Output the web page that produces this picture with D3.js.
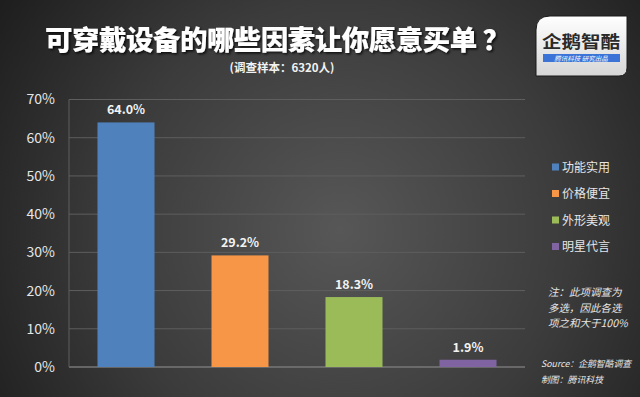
<!DOCTYPE html>
<html><head><meta charset="utf-8">
<script src="https://cdn.jsdelivr.net/npm/d3@7"></script>
<style>body{margin:0;overflow:hidden;background:#2a2a2a}svg{display:block}</style>
</head><body>
<script>
const categories = ["功能实用","价格便宜","外形美观","明星代言"];
const values = [64.0, 29.2, 18.3, 1.9];
const colors = ["#4f81bd","#f79646","#9bbb59","#8064a2"];
const yTicks = [0,10,20,30,40,50,60,70];
const noteLines = ["注：此项调查为","多选，因此各选","项之和大于100%"];
const sourceLines = ["Source：企鹅智酷调查","制图：腾讯科技"];

const W=640,H=397;
const svg=d3.select("body").append("svg").attr("width",W).attr("height",H);
const defs=svg.append("defs");
const rg=defs.append("radialGradient").attr("id","bg").attr("gradientUnits","userSpaceOnUse")
  .attr("cx",340).attr("cy",230).attr("r",420);
rg.append("stop").attr("offset","0").attr("stop-color","#575757");
rg.append("stop").attr("offset","0.55").attr("stop-color","#3b3b3b");
rg.append("stop").attr("offset","1").attr("stop-color","#1c1c1c");
svg.append("rect").attr("width",W).attr("height",H).attr("fill","url(#bg)");

const f=defs.append("filter").attr("id","sh").attr("x","-10%").attr("y","-20%").attr("width","120%").attr("height","150%");
f.append("feDropShadow").attr("dx",1.5).attr("dy",1.5).attr("stdDeviation",1).attr("flood-color","#000").attr("flood-opacity",0.8);

const font="'Noto Sans CJK SC','Noto Sans',sans-serif";

svg.append("text").attr("x",45).attr("y",50)
  .attr("font-family",font).attr("font-weight","900").attr("font-size",27.5).attr("fill","#fff")
  .attr("textLength",465).attr("lengthAdjust","spacing")
  .attr("filter","url(#sh)").text("可穿戴设备的哪些因素让你愿意买单 ？");
svg.append("text").attr("x",282).attr("y",72).attr("text-anchor","middle")
  .attr("font-family",font).attr("font-weight","bold").attr("font-size",11.5).attr("fill","#f2f2f2")
  .text("(调查样本：6320人)");

// logo
const lg=defs.append("linearGradient").attr("id","lg").attr("x1",0).attr("y1",0).attr("x2",0).attr("y2",1);
lg.append("stop").attr("offset","0").attr("stop-color","#ffffff");
lg.append("stop").attr("offset","1").attr("stop-color","#d6d6d6");
const logo=svg.append("g");
logo.append("path").attr("d","M550,16 L627,16 L627,68 Q627,76 619,76 L536,76 L536,30 Q536,16 550,16 Z")
  .attr("fill","url(#lg)").attr("stroke","#1a1a1a").attr("stroke-width",1);
logo.append("text").attr("x",581).attr("y",48).attr("text-anchor","middle")
  .attr("font-family",font).attr("font-weight","bold").attr("font-size",17).attr("fill","#2a2a2a")
  .attr("textLength",78).attr("lengthAdjust","spacingAndGlyphs")
  .text("企鹅智酷");
logo.append("rect").attr("x",543).attr("y",54).attr("width",77).attr("height",8).attr("fill","#3b73d6");
logo.append("text").attr("x",581).attr("y",60.5).attr("text-anchor","middle")
  .attr("font-family",font).attr("font-style","italic").attr("font-size",6.5).attr("fill","#fff")
  .text("腾讯科技  研究出品");

// plot
const m={l:69,r:525,t:99.5,b:367};
const x=d3.scaleBand().domain(categories).range([m.l,m.r]).paddingInner(0.5).paddingOuter(0.25);
const y=d3.scaleLinear().domain([0,70]).range([m.b,m.t]);

const grid=svg.append("g");
grid.selectAll("line").data(yTicks).join("line")
  .attr("x1",m.l).attr("x2",m.r).attr("y1",d=>y(d)).attr("y2",d=>y(d))
  .attr("stroke",d=>d===0?"#777":"#5e5e5e").attr("stroke-width",d=>d===0?1.5:1);
svg.append("line").attr("x1",m.l).attr("x2",m.l).attr("y1",m.t).attr("y2",m.b).attr("stroke","#5e5e5e");

const ax=svg.append("g").attr("transform",`translate(${m.l},0)`)
  .call(d3.axisLeft(y).tickValues(yTicks).tickFormat(d=>d+"%").tickSize(0).tickPadding(14));
ax.select(".domain").remove();
ax.selectAll("text").attr("font-family",font).attr("font-size",14).attr("fill","#e6e6e6");

svg.append("g").selectAll("rect").data(values).join("rect")
  .attr("x",(d,i)=>x(categories[i])).attr("width",x.bandwidth())
  .attr("y",d=>y(d)).attr("height",d=>m.b-y(d)).attr("fill",(d,i)=>colors[i]);

svg.append("g").selectAll("text").data(values).join("text")
  .attr("x",(d,i)=>x(categories[i])+x.bandwidth()/2).attr("y",d=>y(d)-8)
  .attr("text-anchor","middle").attr("font-family",font).attr("font-weight","bold").attr("font-size",12.5)
  .attr("fill","#f2f2f2").text(d=>d.toFixed(1)+"%");

// legend
const leg=svg.append("g").selectAll("g").data(categories).join("g")
  .attr("transform",(d,i)=>`translate(552,${167+i*26.5})`);
leg.append("rect").attr("x",0).attr("y",-3.5).attr("width",7).attr("height",7).attr("fill",(d,i)=>colors[i]);
leg.append("text").attr("x",10).attr("y",4.5).attr("font-family",font).attr("font-size",12).attr("fill","#e6e6e6").text(d=>d);

svg.append("g").selectAll("text").data(noteLines).join("text")
  .attr("x",548).attr("y",(d,i)=>296+i*15.5).attr("font-family",font).attr("font-style","italic")
  .attr("font-size",10.5).attr("fill","#e6e6e6").text(d=>d);
svg.append("g").selectAll("text").data(sourceLines).join("text")
  .attr("x",541).attr("y",(d,i)=>367+i*16).attr("font-family",font).attr("font-style","italic")
  .attr("font-size",9).attr("fill","#e6e6e6")
  .attr("textLength",(d,i)=>i===0?90:62).attr("lengthAdjust","spacingAndGlyphs").text(d=>d);
</script>
</body></html>
